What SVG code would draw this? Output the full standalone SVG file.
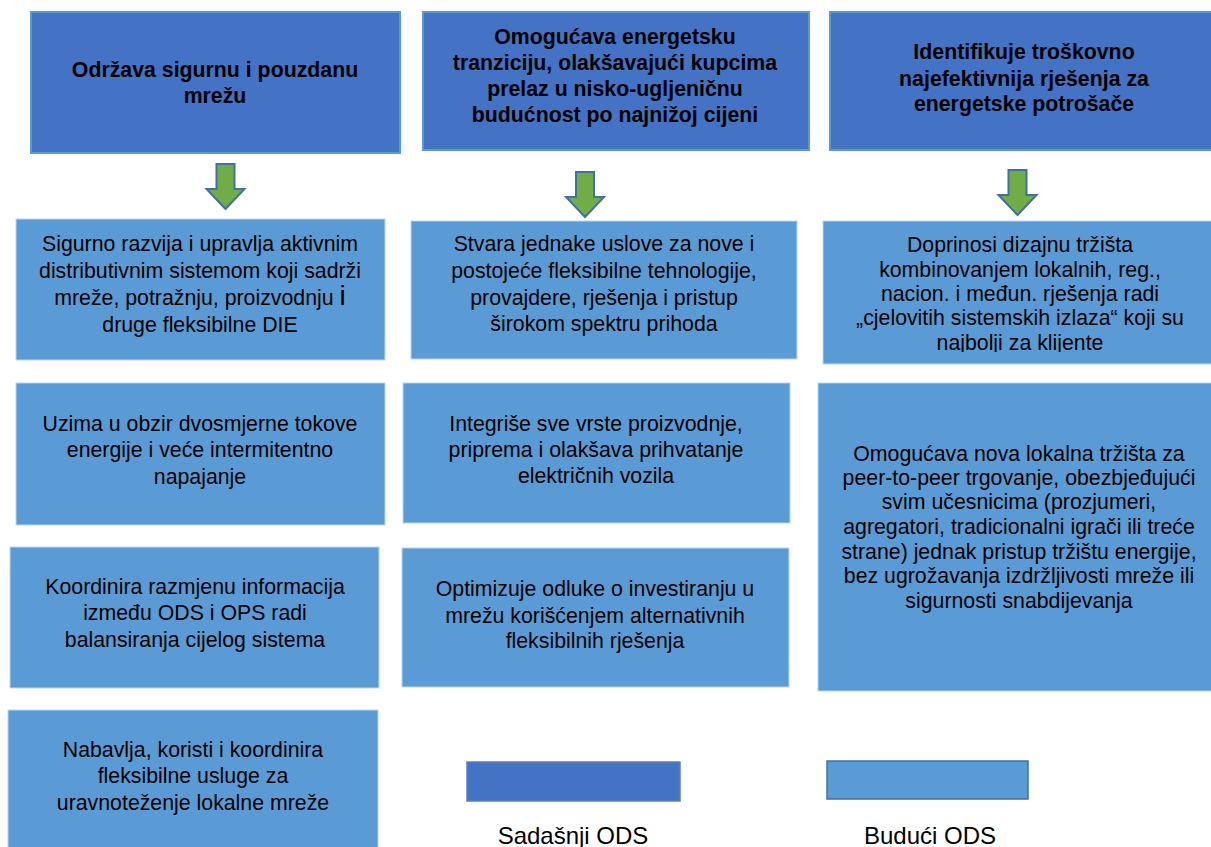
<svg xmlns="http://www.w3.org/2000/svg" width="1211" height="847" viewBox="0 0 1211 847">
  <style>
    .head { fill: #4472C4; stroke: #5B9BD5; stroke-width: 2; }
    .role { fill: #5B9BD5; stroke: #BDD7EE; stroke-width: 1; }
    .arrow { fill: #70AD47; stroke: #41719C; stroke-width: 2; stroke-linejoin: miter; }
    text { font-family: "Liberation Sans", Arial, sans-serif; fill: #000; text-anchor: middle; }
    .t { font-size: 21.3px; font-weight: bold; }
    .b { font-size: 21.3px; }
    .lg { font-size: 24px; }
  </style>
  <defs>
    <path id="down" d="M -9 0 H 9 V 25 H 19 L 0 45 L -19 25 H -9 Z"/>
    <clipPath id="clipR1"><rect x="823" y="221" width="400" height="131"/></clipPath>
  </defs>

  <!-- column headers -->
  <g id="head-grid">
    <rect class="head" x="31" y="12" width="369" height="141"/>
    <text class="t" x="215" y="77">Održava sigurnu i pouzdanu</text>
    <text class="t" x="215" y="103">mrežu</text>
  </g>
  <g id="head-transition">
    <rect class="head" x="423" y="12" width="386" height="138"/>
    <text class="t" x="615" y="44">Omogućava energetsku</text>
    <text class="t" x="615" y="70">tranziciju, olakšavajući kupcima</text>
    <text class="t" x="615" y="96">prelaz u nisko-ugljeničnu</text>
    <text class="t" x="615" y="122">budućnost po najnižoj cijeni</text>
  </g>
  <g id="head-market">
    <rect class="head" x="830" y="12" width="390" height="138"/>
    <text class="t" x="1024" y="59">Identifikuje troškovno</text>
    <text class="t" x="1024" y="86">najefektivnija rješenja za</text>
    <text class="t" x="1024" y="111">energetske potrošače</text>
  </g>

  <!-- arrows from headers to tasks -->
  <g id="connectors">
    <use href="#down" class="arrow" transform="translate(225.5,164)"/>
    <use href="#down" class="arrow" transform="translate(585,172)"/>
    <use href="#down" class="arrow" transform="translate(1017.5,170)"/>
  </g>

  <!-- left column -->
  <g id="left-1">
    <rect class="role" x="16" y="219" width="369" height="141"/>
    <text class="b" x="200" y="251">Sigurno razvija i upravlja aktivnim</text>
    <text class="b" x="200" y="278">distributivnim sistemom koji sadrži</text>
    <text class="b" x="200" y="305">mreže, potražnju, proizvodnju <tspan font-size="28">i</tspan></text>
    <text class="b" x="200" y="332">druge fleksibilne DIE</text>
  </g>
  <g id="left-2">
    <rect class="role" x="16" y="383" width="369" height="142"/>
    <text class="b" x="200" y="431">Uzima u obzir dvosmjerne tokove</text>
    <text class="b" x="200" y="457">energije i veće intermitentno</text>
    <text class="b" x="200" y="484">napajanje</text>
  </g>
  <g id="left-3">
    <rect class="role" x="10" y="547" width="369" height="141"/>
    <text class="b" x="195" y="594">Koordinira razmjenu informacija</text>
    <text class="b" x="195" y="620">između ODS i OPS radi</text>
    <text class="b" x="195" y="647">balansiranja cijelog sistema</text>
  </g>
  <g id="left-4">
    <rect class="role" x="8" y="710" width="370" height="145"/>
    <text class="b" x="193" y="757">Nabavlja, koristi i koordinira</text>
    <text class="b" x="193" y="783">fleksibilne usluge za</text>
    <text class="b" x="193" y="810">uravnoteženje lokalne mreže</text>
  </g>

  <!-- middle column -->
  <g id="mid-1">
    <rect class="role" x="411" y="221" width="386" height="138"/>
    <text class="b" x="604" y="251">Stvara jednake uslove za nove i</text>
    <text class="b" x="604" y="278">postojeće fleksibilne tehnologije,</text>
    <text class="b" x="604" y="305">provajdere, rješenja i pristup</text>
    <text class="b" x="604" y="331">širokom spektru prihoda</text>
  </g>
  <g id="mid-2">
    <rect class="role" x="403" y="383" width="387" height="140"/>
    <text class="b" x="596" y="431">Integriše sve vrste proizvodnje,</text>
    <text class="b" x="596" y="457">priprema i olakšava prihvatanje</text>
    <text class="b" x="596" y="483">električnih vozila</text>
  </g>
  <g id="mid-3">
    <rect class="role" x="402" y="548" width="387" height="139"/>
    <text class="b" x="595" y="596">Optimizuje odluke o investiranju u</text>
    <text class="b" x="595" y="623">mrežu korišćenjem alternativnih</text>
    <text class="b" x="595" y="648">fleksibilnih rješenja</text>
  </g>

  <!-- right column -->
  <g id="right-1">
    <rect class="role" x="823" y="221" width="400" height="143"/>
    <g clip-path="url(#clipR1)">
      <text class="b" x="1020" y="252">Doprinosi dizajnu tržišta</text>
      <text class="b" x="1020" y="277">kombinovanjem lokalnih, reg.,</text>
      <text class="b" x="1020" y="301">nacion. i međun. rješenja radi</text>
      <text class="b" x="1020" y="325">„cjelovitih sistemskih izlaza“ koji su</text>
      <text class="b" x="1020" y="350">najbolji za klijente</text>
    </g>
  </g>
  <g id="right-2">
    <rect class="role" x="818" y="383" width="405" height="308"/>
    <text class="b" x="1019" y="461">Omogućava nova lokalna tržišta za</text>
    <text class="b" x="1019" y="485">peer-to-peer trgovanje, obezbjeđujući</text>
    <text class="b" x="1019" y="509">svim učesnicima (prozjumeri,</text>
    <text class="b" x="1019" y="534">agregatori, tradicionalni igrači ili treće</text>
    <text class="b" x="1019" y="559">strane) jednak pristup tržištu energije,</text>
    <text class="b" x="1019" y="583">bez ugrožavanja izdržljivosti mreže ili</text>
    <text class="b" x="1019" y="608">sigurnosti snabdijevanja</text>
  </g>

  <!-- legend -->
  <g id="legend-current">
    <rect x="467" y="762" width="213" height="39" fill="#4472C4" stroke="#5B7FB5" stroke-width="1.5"/>
    <text class="lg" x="573" y="844">Sadašnji ODS</text>
  </g>
  <g id="legend-future">
    <rect x="827" y="761" width="201" height="38" fill="#5B9BD5" stroke="#41719C" stroke-width="1.5"/>
    <text class="lg" x="930" y="844">Budući ODS</text>
  </g>
</svg>
